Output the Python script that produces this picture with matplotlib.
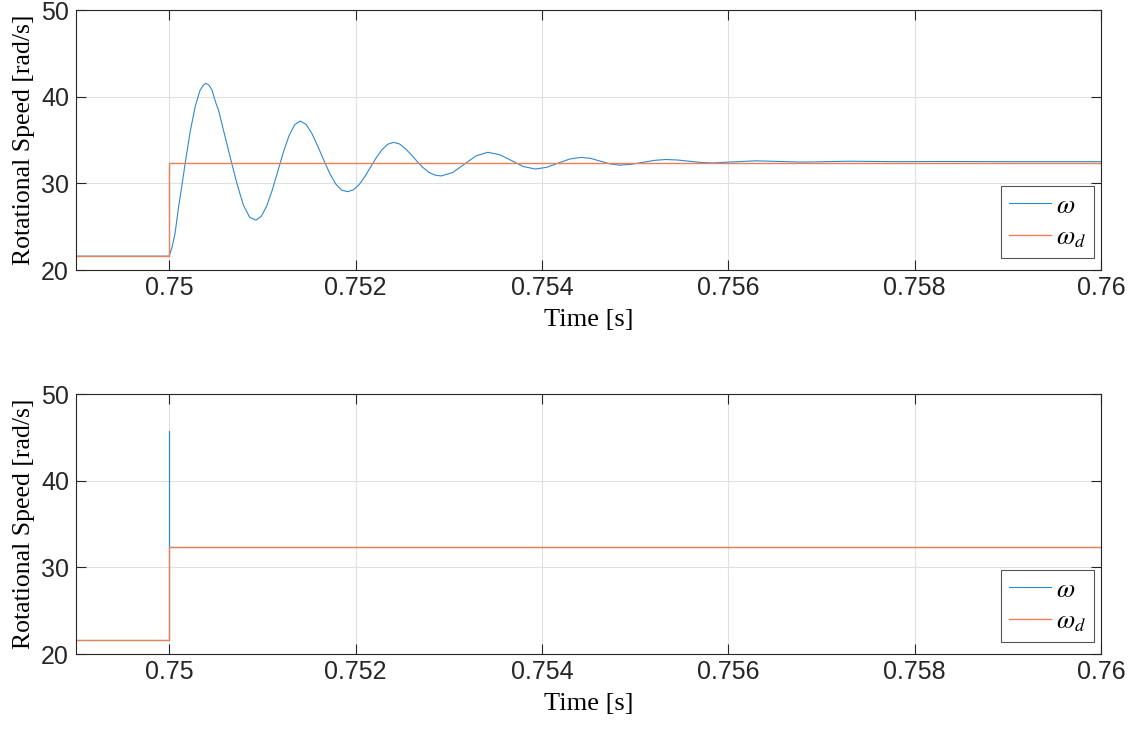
import matplotlib.pyplot as plt

plt.rcParams['font.family'] = ['Liberation Sans', 'DejaVu Sans']
plt.rcParams['mathtext.fontset'] = 'stix'

t_top = [0.749, 0.75, 0.75003, 0.750064, 0.7501, 0.75014, 0.75018, 0.750225,
         0.75028, 0.75033, 0.750365, 0.750394, 0.750425, 0.750458,
         0.7505, 0.750528, 0.750595, 0.750662, 0.750729, 0.750796, 0.750863, 0.75093,
         0.7509895, 0.751049, 0.7511085, 0.751168, 0.7512275, 0.751287, 0.7513465, 0.751406,
         0.75147, 0.751534, 0.751598, 0.751662, 0.751725, 0.751789, 0.751853, 0.751917,
         0.751978, 0.75204, 0.752101, 0.752162, 0.752223, 0.752285, 0.752346, 0.752407,
         0.752471, 0.752535, 0.752599, 0.752663, 0.752726, 0.75279, 0.752854, 0.752918,
         0.7530435, 0.753169, 0.7532945, 0.75342,
         0.7535475, 0.753675, 0.7538025, 0.75393,
         0.7540525, 0.754175, 0.7542975, 0.75442,
         0.754525, 0.75463, 0.754735, 0.75484,
         0.7549625, 0.755085, 0.7552075, 0.75533,
         0.755455, 0.75558, 0.755705, 0.75583,
         0.756065, 0.7563, 0.75655, 0.7568, 0.75705, 0.7573,
         0.7578, 0.7583, 0.759, 0.76]
w_top = [21.6, 21.6, 22.6, 24.3, 27.2, 30.0, 32.9, 35.95,
         38.9, 40.7, 41.3, 41.54, 41.35, 40.8,
         39.3, 38.5, 35.6, 32.7, 29.9, 27.5, 26.1, 25.75,
         26.2, 27.44, 29.30, 31.48, 33.67, 35.52, 36.76, 37.19,
         36.8, 35.7, 34.2, 32.6, 31.1, 29.9, 29.2, 29.04,
         29.26, 29.87, 30.80, 31.89, 32.97, 33.90, 34.51, 34.73,
         34.55, 34.0, 33.3, 32.5, 31.8, 31.25, 30.95, 30.85,
         31.25, 32.22, 33.18, 33.58,
         33.30, 32.62, 31.93, 31.65,
         31.85, 32.33, 32.80, 33.0,
         32.87, 32.55, 32.23, 32.1,
         32.20, 32.43, 32.65, 32.75,
         32.69, 32.55, 32.41, 32.35,
         32.48, 32.6, 32.52, 32.45, 32.5, 32.55,
         32.5, 32.52, 32.5, 32.5]

# reference speed (step)
t_ref = [0.749, 0.75, 0.75, 0.76]
w_ref = [21.6, 21.6, 32.35, 32.35]

# bottom: measured speed, spike at the step
t_bot = [0.749, 0.75, 0.75, 0.75, 0.76]
w_bot = [21.6, 21.6, 45.7, 32.35, 32.35]

x_ticks = [0.75, 0.752, 0.754, 0.756, 0.758, 0.76]
x_labels = ['0.75', '0.752', '0.754', '0.756', '0.758', '0.76']
y_ticks = [20, 30, 40, 50]

blue = '#2f89cf'
orange = '#e8805a'

fig = plt.figure(figsize=(11.37, 7.29), dpi=100)
ax1 = fig.add_axes([76 / 1137, 1 - 270 / 729, 1025 / 1137, 260 / 729])
ax2 = fig.add_axes([76 / 1137, 1 - 654 / 729, 1025 / 1137, 260 / 729])

for ax, tw, ww in [(ax1, t_top, w_top), (ax2, t_bot, w_bot)]:
    ax.plot(tw, ww, color=blue, linewidth=0.8, label=r'$\omega$')
    ax.plot(t_ref, w_ref, color=orange, linewidth=1.0, label=r'$\omega_d$')
    ax.set_xlim(0.749, 0.76)
    ax.set_ylim(20, 50)
    ax.set_xticks(x_ticks)
    ax.set_xticklabels(x_labels)
    ax.set_yticks(y_ticks)
    ax.tick_params(direction='in', length=7, width=0.8, colors='#262626',
                   labelsize=18, top=True, right=True)
    ax.tick_params(axis='x', pad=4)
    ax.tick_params(axis='y', pad=5)
    for s in ax.spines.values():
        s.set_color('#262626')
        s.set_linewidth(0.8)
    ax.grid(True, color='#e0e0e0', linewidth=0.8)
    ax.set_axisbelow(True)
    ax.set_xlabel('Time [s]', family='Liberation Serif', fontsize=19, labelpad=7)
    ax.set_ylabel('Rotational Speed [rad/s]', family='Liberation Serif', fontsize=18.5, labelpad=4)
    leg = ax.legend(loc='lower right', bbox_to_anchor=(0.9932, 0.046), fontsize=19,
                    fancybox=False, framealpha=1, edgecolor='#555555',
                    handlelength=1.6, handletextpad=0.2, borderpad=0.3,
                    labelspacing=0.3, borderaxespad=0)
    leg.get_frame().set_linewidth(0.8)

fig.savefig('out.png', dpi=100)
